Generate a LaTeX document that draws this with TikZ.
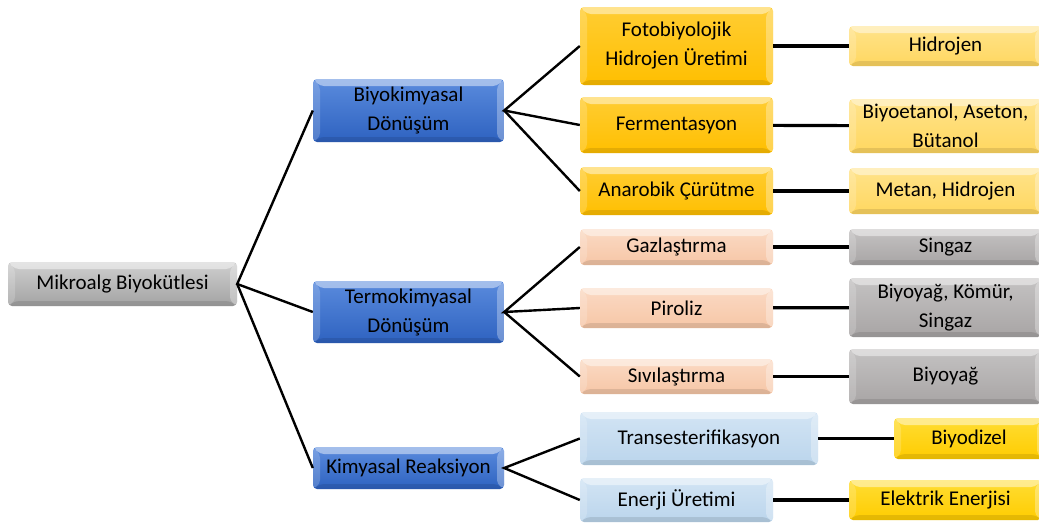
\documentclass[tikz,border=0pt]{standalone}
\usepackage{fontspec}
\setmainfont{Carlito}
\definecolor{blueT}{HTML}{5A8BDD}
\definecolor{blueB}{HTML}{2E62C0}
\definecolor{goldT}{HTML}{FFCD33}
\definecolor{goldB}{HTML}{FFBF00}
\definecolor{lgoldT}{HTML}{FFE38A}
\definecolor{lgoldB}{HTML}{FFD760}
\definecolor{peachT}{HTML}{FBDAC4}
\definecolor{peachB}{HTML}{F6C6A6}
\definecolor{grayT}{HTML}{C4C2C2}
\definecolor{grayB}{HTML}{A8A5A5}
\definecolor{rootT}{HTML}{CFCFCF}
\definecolor{rootB}{HTML}{A3A3A3}
\definecolor{lblueT}{HTML}{D2E4F4}
\definecolor{lblueB}{HTML}{BBD5EC}
\definecolor{yelT}{HTML}{FFDD33}
\definecolor{yelB}{HTML}{FFCC00}
\tikzset{
  box/.style={rounded corners=4pt, inner sep=0pt, align=center,
    font=\fontsize{21}{29}\selectfont,
    path picture={
      \fill[white,opacity=.45] (path picture bounding box.north west) -- (path picture bounding box.north east)
        -- ([xshift=-7pt,yshift=-7pt]path picture bounding box.north east) -- ([xshift=7pt,yshift=-7pt]path picture bounding box.north west) -- cycle;
      \fill[white,opacity=.18] (path picture bounding box.north west) -- ([xshift=7pt,yshift=-7pt]path picture bounding box.north west)
        -- ([xshift=7pt,yshift=5pt]path picture bounding box.south west) -- (path picture bounding box.south west) -- cycle;
      \fill[white,opacity=.3] (path picture bounding box.north east) -- ([xshift=-7pt,yshift=-7pt]path picture bounding box.north east)
        -- ([xshift=-7pt,yshift=5pt]path picture bounding box.south east) -- (path picture bounding box.south east) -- cycle;
      \fill[black,opacity=.10] (path picture bounding box.south west) -- ([xshift=7pt,yshift=5pt]path picture bounding box.south west)
        -- ([xshift=-7pt,yshift=5pt]path picture bounding box.south east) -- (path picture bounding box.south east) -- cycle;
    }},
  bluebox/.style={box, top color=blueT, bottom color=blueB},
  goldbox/.style={box, top color=goldT, bottom color=goldB},
  lgoldbox/.style={box, top color=lgoldT, bottom color=lgoldB},
  peachbox/.style={box, top color=peachT, bottom color=peachB},
  graybox/.style={box, top color=grayT, bottom color=grayB},
  rootbox/.style={box, top color=rootT, bottom color=rootB},
  lbluebox/.style={box, top color=lblueT, bottom color=lblueB},
  yelbox/.style={box, top color=yelT, bottom color=yelB},
  fan/.style={line width=2.4pt, black},
  hline/.style={line width=3.2pt, black},
}
\begin{document}
\begin{tikzpicture}[x=1pt,y=-1pt]
\useasboundingbox (0,0) rectangle (1039,525);
\clip (0,0) rectangle (1039,525);
% root
\node[rootbox, minimum width=229pt, minimum height=44pt] (root) at (122.5,284) {Mikroalg Biyokütlesi};
% level 1
\node[bluebox, minimum width=191pt, minimum height=63pt] (bio) at (408.5,110.5) {Biyokimyasal\\Dönüşüm};
\node[bluebox, minimum width=191pt, minimum height=62pt] (termo) at (408.5,312) {Termokimyasal\\Dönüşüm};
\node[bluebox, minimum width=191pt, minimum height=42pt] (kim) at (408.5,468) {Kimyasal Reaksiyon};
% level 2
\node[goldbox, minimum width=193pt, minimum height=78pt] (foto) at (676.5,46) {Fotobiyolojik\\Hidrojen Üretimi};
\node[goldbox, minimum width=193pt, minimum height=56pt] (ferm) at (676.5,125) {Fermentasyon};
\node[goldbox, minimum width=193pt, minimum height=48pt] (ana) at (676.5,191) {Anarobik Çürütme};
\node[peachbox, minimum width=193pt, minimum height=36pt] (gaz) at (676.5,247) {Gazlaştırma};
\node[peachbox, minimum width=193pt, minimum height=40pt] (pir) at (676.5,308) {Piroliz};
\node[peachbox, minimum width=193pt, minimum height=35pt] (siv) at (676.5,376.5) {Sıvılaştırma};
\node[lbluebox, minimum width=238pt, minimum height=53pt] (trans) at (699,438.5) {Transesterifikasyon};
\node[lbluebox, minimum width=193pt, minimum height=44pt] (ener) at (676.5,500) {Enerji Üretimi};
% level 3
\node[lgoldbox, minimum width=193pt, minimum height=40pt] (hid) at (945.5,46) {Hidrojen};
\node[lgoldbox, minimum width=193pt, minimum height=54pt] (biyo) at (945.5,126) {Biyoetanol, Aseton,\\Bütanol};
\node[lgoldbox, minimum width=193pt, minimum height=46pt] (met) at (945.5,191) {Metan, Hidrojen};
\node[graybox, minimum width=193pt, minimum height=36pt] (sin) at (945.5,247) {Singaz};
\node[graybox, minimum width=193pt, minimum height=59pt] (bkom) at (945.5,307.5) {Biyoyağ, Kömür,\\Singaz};
\node[graybox, minimum width=193pt, minimum height=55pt] (byag) at (945.5,376.5) {Biyoyağ};
\node[yelbox, minimum width=150pt, minimum height=41pt] (dizel) at (969,438.5) {Biyodizel};
\node[yelbox, minimum width=193pt, minimum height=40pt] (elek) at (945.5,500) {Elektrik Enerjisi};
% connectors
\draw[fan] (bio.west) -- (root.east) -- (termo.west);
\draw[fan] (root.east) -- (kim.west);
\draw[fan] (foto.west) -- (bio.east) -- (ferm.west);
\draw[fan] (bio.east) -- (ana.west);
\draw[fan] (gaz.west) -- (termo.east) -- (pir.west);
\draw[fan] (termo.east) -- (siv.west);
\draw[fan] (trans.west) -- (kim.east) -- (ener.west);
\draw[hline] (foto) -- (hid);
\draw[hline] (ferm) -- (biyo);
\draw[hline] (ana) -- (met);
\draw[hline] (gaz) -- (sin);
\draw[hline] (pir) -- (bkom);
\draw[hline] (siv) -- (byag);
\draw[hline] (trans) -- (dizel);
\draw[hline] (ener) -- (elek);
\end{tikzpicture}
\end{document}
